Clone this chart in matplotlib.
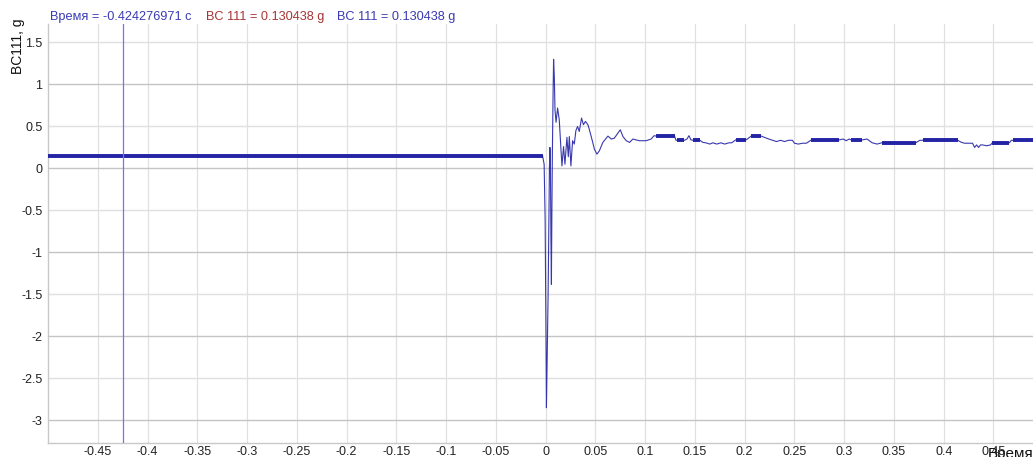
from __future__ import annotations

import matplotlib

matplotlib.use("Agg")
import matplotlib.pyplot as plt

# thin trace, seconds / g
trace_t = [
    -0.003, -0.0015, -0.0005, 0.0003, 0.0008, 0.0015, 0.0025, 0.0033, 0.0038, 0.0043,
    0.0048, 0.0053, 0.0058, 0.0063, 0.0068, 0.0075, 0.008, 0.0087, 0.0094, 0.0105,
    0.012, 0.0137, 0.0154, 0.0164, 0.018, 0.0194, 0.0214, 0.0228, 0.0238, 0.0254,
    0.0271, 0.0288, 0.0304, 0.0321, 0.0338, 0.0361, 0.038, 0.040, 0.0425, 0.044,
    0.0469, 0.049, 0.0515, 0.054, 0.0575, 0.0626, 0.066, 0.069, 0.0726, 0.075,
    0.0777, 0.081, 0.0843, 0.0877, 0.094, 0.101, 0.106, 0.109, 0.111, 0.1295,
    0.131, 0.1395, 0.142, 0.144, 0.146, 0.148, 0.155, 0.158, 0.161, 0.165,
    0.168, 0.172, 0.176, 0.180, 0.184, 0.187, 0.191, 0.2015, 0.2065, 0.2166,
    0.222, 0.228, 0.232, 0.236, 0.240, 0.244, 0.248, 0.250, 0.254, 0.258,
    0.262, 0.267, 0.295, 0.299, 0.302, 0.305, 0.307, 0.318, 0.323, 0.328,
    0.333, 0.338, 0.372, 0.376, 0.414, 0.418, 0.421, 0.429, 0.431, 0.433,
    0.435, 0.437, 0.439, 0.443, 0.447, 0.449, 0.466, 0.468, 0.4897,
]
trace_v = [
    0.145, 0.05, -0.6, -1.9, -2.85, -2.3, -1.5, -0.6, 0.0, 0.25,
    0.1, -0.8, -1.38, -0.5, 0.2, 0.9, 1.3, 1.1, 0.7, 0.55,
    0.72, 0.58, 0.23, 0.03, 0.26, 0.05, 0.37, 0.14, 0.38, 0.03,
    0.33, 0.29, 0.45, 0.50, 0.44, 0.60, 0.52, 0.56, 0.52, 0.46,
    0.33, 0.23, 0.17, 0.21, 0.31, 0.385, 0.35, 0.36, 0.42, 0.46,
    0.38, 0.33, 0.31, 0.35, 0.33, 0.33, 0.35, 0.39, 0.385, 0.385,
    0.335, 0.335, 0.35, 0.39, 0.34, 0.335, 0.335, 0.31, 0.305, 0.29,
    0.305, 0.29, 0.305, 0.29, 0.305, 0.305, 0.34, 0.34, 0.385, 0.385,
    0.36, 0.335, 0.32, 0.335, 0.32, 0.335, 0.335, 0.30, 0.29, 0.30,
    0.30, 0.34, 0.34, 0.35, 0.33, 0.35, 0.34, 0.34, 0.35, 0.306,
    0.29, 0.306, 0.306, 0.335, 0.335, 0.31, 0.30, 0.30, 0.25, 0.28,
    0.25, 0.28, 0.28, 0.27, 0.28, 0.306, 0.306, 0.335, 0.335,
]

# dense stretches where the signal flickers between two levels (drawn thick)
band_start = [-0.5, 0.111, 0.1325, 0.148, 0.191, 0.2065, 0.267, 0.307, 0.338, 0.379, 0.449, 0.470]
band_end = [-0.003, 0.1295, 0.1395, 0.155, 0.2015, 0.2166, 0.295, 0.318, 0.372, 0.414, 0.466, 0.4897]
band_level = [0.145, 0.385, 0.335, 0.335, 0.34, 0.385, 0.34, 0.34, 0.306, 0.335, 0.306, 0.335]

x_ticks = [-0.45, -0.4, -0.35, -0.3, -0.25, -0.2, -0.15, -0.1, -0.05, 0, 0.05, 0.1, 0.15, 0.2, 0.25, 0.3, 0.35, 0.4, 0.45]
x_labels = ["-0.45", "-0.4", "-0.35", "-0.3", "-0.25", "-0.2", "-0.15", "-0.1", "-0.05", "0",
            "0.05", "0.1", "0.15", "0.2", "0.25", "0.3", "0.35", "0.4", "0.45"]
y_ticks = [-3, -2.5, -2, -1.5, -1, -0.5, 0, 0.5, 1, 1.5]
y_labels = ["-3", "-2.5", "-2", "-1.5", "-1", "-0.5", "0", "0.5", "1", "1.5"]

cursor_t = -0.424276971
header = [
    ("Время = -0.424276971 с", "#3a3ab4"),
    ("BC 111 = 0.130438 g", "#a83434"),
    ("BC 111 = 0.130438 g", "#3a3ab4"),
]

TRACE = "#2323a6"


def main() -> None:
    plt.rcParams["font.family"] = ["Liberation Sans", "DejaVu Sans"]
    fig = plt.figure(figsize=(10.33, 4.57), dpi=100)
    ax = fig.add_axes([48 / 1033, 14 / 457, 1 - 48 / 1033, 419 / 457])

    ax.set_xlim(-0.5, 0.4897)
    ax.set_ylim(-3.27, 1.72)

    # grid: integer levels a bit darker
    for xt in x_ticks:
        ax.axvline(xt, color="#e0e0e0", lw=0.9, zorder=0)
    for yt in y_ticks:
        c = "#c4c4c4" if float(yt).is_integer() else "#e0e0e0"
        ax.axhline(yt, color=c, lw=1.0, zorder=0)

    ax.plot(trace_t, trace_v, color=TRACE, lw=0.8, alpha=0.9, zorder=3)
    for s, e, lv in zip(band_start, band_end, band_level):
        ax.plot([s, e], [lv, lv], color=TRACE, lw=2.8, solid_capstyle="butt", zorder=3)

    ax.axvline(cursor_t, color="#7272ff", lw=0.9, zorder=4)

    ax.set_xticks(x_ticks)
    ax.set_xticklabels(x_labels)
    ax.set_yticks(y_ticks)
    ax.set_yticklabels(y_labels)
    ax.tick_params(length=0, labelsize=9, labelcolor="#222222")
    ax.tick_params(axis="x", pad=2)
    ax.tick_params(axis="y", pad=4)

    for side in ("top", "right"):
        ax.spines[side].set_visible(False)
    for side in ("left", "bottom"):
        ax.spines[side].set_color("#c8c8c8")
        ax.spines[side].set_linewidth(1.0)

    xs = [50, 206, 337]
    for (txt, col), xp in zip(header, xs):
        fig.text(xp / 1033, 1 - 17 / 457, txt, color=col, fontsize=9.2, va="center", ha="left")

    fig.text(11 / 1033, 1 - 19 / 457, "BC111, g", rotation=90, fontsize=10,
             va="top", ha="left", color="#111111")
    fig.text(988 / 1033, 1 - 447 / 457, "Время,", fontsize=11, va="top", ha="left",
             color="#111111")

    fig.savefig("out.png", dpi=100)
    plt.close(fig)


if __name__ == "__main__":
    main()
